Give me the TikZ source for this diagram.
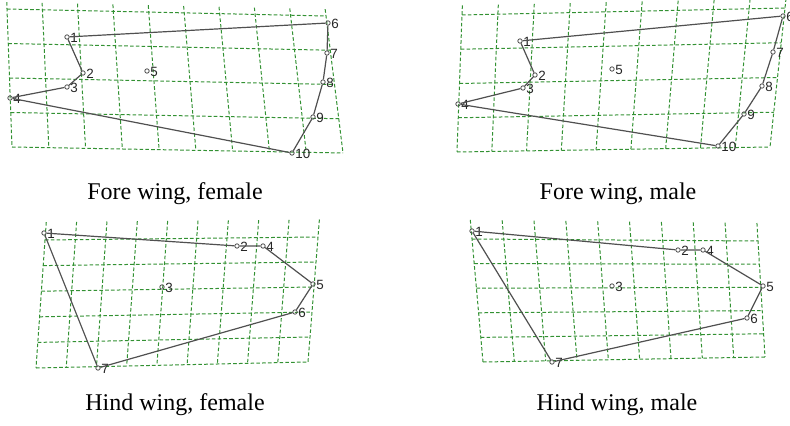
\documentclass[tikz,border=0pt]{standalone}
\usepackage{fontspec}
\setmainfont{Liberation Serif}
\newfontfamily\lmfont{Liberation Sans}
\usetikzlibrary{calc}
\definecolor{gridgreen}{RGB}{50,145,50}
\definecolor{outline}{RGB}{80,80,80}

% deformation grid: corners TL, TR, BL, BR, columns, rows, overhang of the verticals
\newcommand{\wgrid}[7]{%
  \coordinate (tl) at #1; \coordinate (tr) at #2;
  \coordinate (bl) at #3; \coordinate (br) at #4;
  \foreach \i in {0,...,#5}
    \draw[gridline] ($(tl)!{\i/#5}!(tr)$) coordinate (gt)
      ($(bl)!{\i/#5}!(br)$) coordinate (gb) ($(gt)!#7!(gb)$) -- (gb);
  \foreach \j in {0,...,#6}
    \draw[gridline] ($(tl)!{\j/#6}!(bl)$) -- ($(tr)!{\j/#6}!(br)$);
}

\begin{document}
\begin{tikzpicture}[x=0.5pt, y=-0.5pt,
    gridline/.style={gridgreen, line width=0.5pt, dash pattern=on 1.8pt off 1.1pt},
    wingline/.style={outline, line width=0.6pt},
    lm/.style={circle, draw=outline, line width=0.4pt, inner sep=0pt, minimum size=2.2pt,
      label distance=-0.4pt},
    lmnum/.style={font=\lmfont\fontsize{6.7}{7}\selectfont, inner sep=0.2pt, yshift=-0.6pt, text=black!85},
    caption/.style={font=\fontsize{12}{14}\selectfont}]
  \useasboundingbox (0,0) rectangle (790,426);

  % fore wing, female
  \wgrid{(7,9)}{(326,16)}{(12,147)}{(343,153)}{9}{4}{-0.05}
  \node[lm, label={[lmnum]east:1}] (ff1) at (67,37) {};
  \node[lm, label={[lmnum]east:2}] (ff2) at (83,73) {};
  \node[lm, label={[lmnum]east:3}] (ff3) at (67,87) {};
  \node[lm, label={[lmnum]east:4}] (ff4) at (10,98) {};
  \node[lm, label={[lmnum]east:5}] (ff5) at (147,71) {};
  \node[lm, label={[lmnum]east:6}] (ff6) at (328,23) {};
  \node[lm, label={[lmnum]east:7}] (ff7) at (327,53) {};
  \node[lm, label={[lmnum]east:8}] (ff8) at (323,82) {};
  \node[lm, label={[lmnum]east:9}] (ff9) at (313,117) {};
  \node[lm, label={[lmnum]east:10}] (ff10) at (292,153) {};
  \draw[wingline] (ff1) -- (ff6) -- (ff7) -- (ff8) -- (ff9) -- (ff10) -- (ff4) -- (ff3) -- (ff2) -- (ff1);
  \node[caption] (capff) at (175,194) {Fore wing, female};

  % fore wing, male
  \wgrid{(462,15)}{(785,8)}{(457,152)}{(770,147)}{9}{4}{-0.07}
  \node[lm, label={[lmnum]east:1}] (fm1) at (520,41) {};
  \node[lm, label={[lmnum]east:2}] (fm2) at (535,75) {};
  \node[lm, label={[lmnum]east:3}] (fm3) at (523,88) {};
  \node[lm, label={[lmnum]east:4}] (fm4) at (458,104) {};
  \node[lm, label={[lmnum]east:5}] (fm5) at (612,69) {};
  \node[lm, label={[lmnum]east:6}] (fm6) at (783,16) {};
  \node[lm, label={[lmnum]east:7}] (fm7) at (773,52) {};
  \node[lm, label={[lmnum]east:8}] (fm8) at (762,86) {};
  \node[lm, label={[lmnum]east:9}] (fm9) at (744,114) {};
  \node[lm, label={[lmnum]east:10}] (fm10) at (718,146) {};
  \draw[wingline] (fm1) -- (fm6) -- (fm7) -- (fm8) -- (fm9) -- (fm10) -- (fm4) -- (fm3) -- (fm2) -- (fm1);
  \node[caption] (capfm) at (618,194) {Fore wing, male};

  % hind wing, female
  \wgrid{(45,240)}{(318,237)}{(36,368)}{(308,362)}{9}{5}{-0.14}
  \node[lm, label={[lmnum]east:1}] (hf1) at (44,233) {};
  \node[lm, label={[lmnum]east:2}] (hf2) at (237,246) {};
  \node[lm, label={[lmnum]east:3}] (hf3) at (162,287) {};
  \node[lm, label={[lmnum]east:4}] (hf4) at (263,246) {};
  \node[lm, label={[lmnum]east:5}] (hf5) at (313,284) {};
  \node[lm, label={[lmnum]east:6}] (hf6) at (295,312) {};
  \node[lm, label={[lmnum]east:7}] (hf7) at (98,368) {};
  \draw[wingline] (hf1) -- (hf2) -- (hf4) -- (hf5) -- (hf6) -- (hf7) -- (hf1);
  \node[caption] (caphf) at (175,405) {Hind wing, female};

  % hind wing, male
  \wgrid{(472,239)}{(758,241)}{(483,362)}{(765,357)}{9}{5}{-0.155}
  \node[lm, label={[lmnum]east:1}] (hm1) at (472,231) {};
  \node[lm, label={[lmnum]east:2}] (hm2) at (678,250) {};
  \node[lm, label={[lmnum]east:3}] (hm3) at (612,286) {};
  \node[lm, label={[lmnum]east:4}] (hm4) at (703,250) {};
  \node[lm, label={[lmnum]east:5}] (hm5) at (763,286) {};
  \node[lm, label={[lmnum]east:6}] (hm6) at (747,318) {};
  \node[lm, label={[lmnum]east:7}] (hm7) at (552,362) {};
  \draw[wingline] (hm1) -- (hm2) -- (hm4) -- (hm5) -- (hm6) -- (hm7) -- (hm1);
  \node[caption] (caphm) at (617,405) {Hind wing, male};
\end{tikzpicture}
\end{document}
